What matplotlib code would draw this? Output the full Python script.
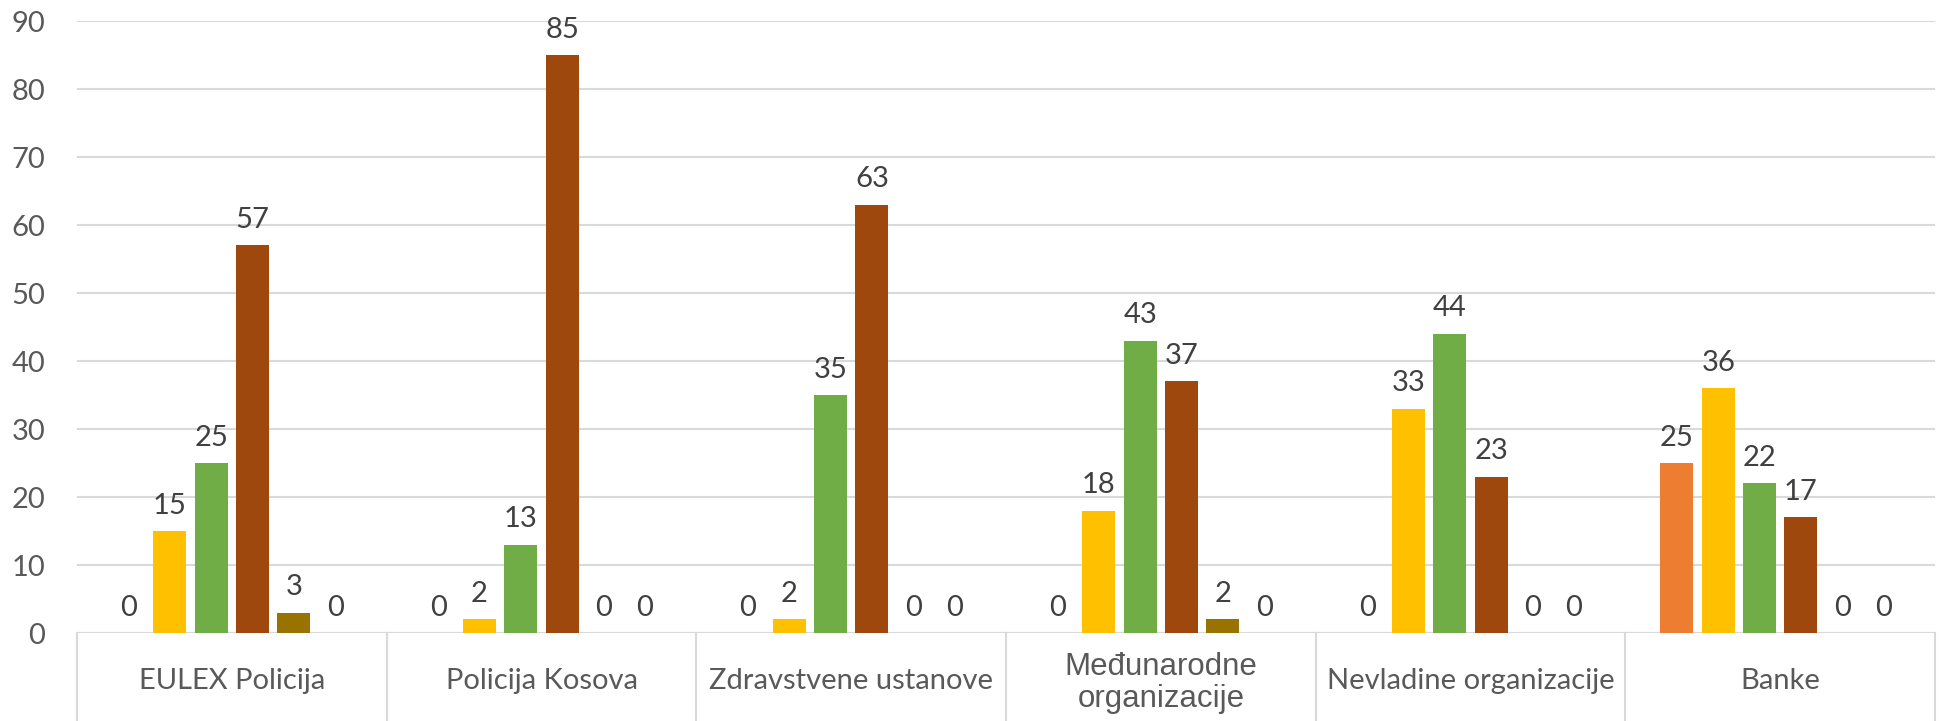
import matplotlib
matplotlib.use("Agg")
import matplotlib.pyplot as plt
import matplotlib.transforms as mtransforms
import numpy as np

categories = ["EULEX Policija", "Policija Kosova", "Zdravstvene ustanove",
              "Međunarodne\norganizacije", "Nevladine organizacije", "Banke"]
series_1 = [0, 0, 0, 0, 0, 25]
series_2 = [15, 2, 2, 18, 33, 36]
series_3 = [25, 13, 35, 43, 44, 22]
series_4 = [57, 85, 63, 37, 23, 17]
series_5 = [3, 0, 0, 2, 0, 0]
series_6 = [0, 0, 0, 0, 0, 0]
series = [series_1, series_2, series_3, series_4, series_5, series_6]
colors = ["#ED7D31", "#FFC000", "#70AD47", "#9E480E", "#997300", "#43682B"]
yticks = [0, 10, 20, 30, 40, 50, 60, 70, 80, 90]

W, H = 1949, 721
fig = plt.figure(figsize=(W / 100, H / 100), dpi=100)
left_px, right_px, top_px, bot_px = 77, 1935, 21, 633
ax = fig.add_axes([left_px / W, 1 - bot_px / H, (right_px - left_px) / W, (bot_px - top_px) / H])

FONT = "Lato"
grid_c = "#D9D9D9"
ncat = len(categories)
nser = len(series)
pitch = 41.3 / ((right_px - left_px) / ncat)
bw = 33.0 / ((right_px - left_px) / ncat)
x = np.arange(ncat) + 0.5

for i, (vals, c) in enumerate(zip(series, colors)):
    xs = x + (i - (nser - 1) / 2) * pitch
    ax.bar(xs, vals, width=bw, color=c, zorder=3)
    for xb, v in zip(xs, vals):
        ax.annotate(str(v), (xb, v), xytext=(0, 9), textcoords="offset points",
                    ha="center", va="bottom", fontsize=21, color="#404040",
                    family=FONT, zorder=4)

ax.set_xlim(0, ncat)
ax.set_ylim(0, 90)
ax.set_yticks(yticks)
ax.set_yticklabels([str(t) for t in yticks], fontsize=21, color="#595959", family=FONT)
ax.tick_params(axis="y", length=0, pad=23)
ax.set_xticks([])
for s in ax.spines.values():
    s.set_visible(False)
ax.yaxis.grid(True, color=grid_c, linewidth=1.5, zorder=0)
ax.axhline(0, color=grid_c, linewidth=1.5, zorder=2)

# category box lines
trans = mtransforms.blended_transform_factory(ax.transData, ax.transAxes)
depth = -(H - bot_px) / (bot_px - top_px)
for b in range(ncat + 1):
    ax.plot([b, b], [0, depth], transform=trans, color=grid_c, linewidth=1.5,
            clip_on=False, zorder=2)

label_y = -48 / (bot_px - top_px)
for xc, name in zip(x, categories):
    if "\n" in name:
        ax.text(xc, -50 / (bot_px - top_px), name, transform=trans, ha="center", va="center",
                fontsize=22.5, color="#595959", family="Liberation Sans",
                linespacing=1.08)
    else:
        ax.text(xc, label_y, name, transform=trans, ha="center", va="center",
                fontsize=21, color="#595959", family=FONT)

fig.savefig("out.png", dpi=100)
